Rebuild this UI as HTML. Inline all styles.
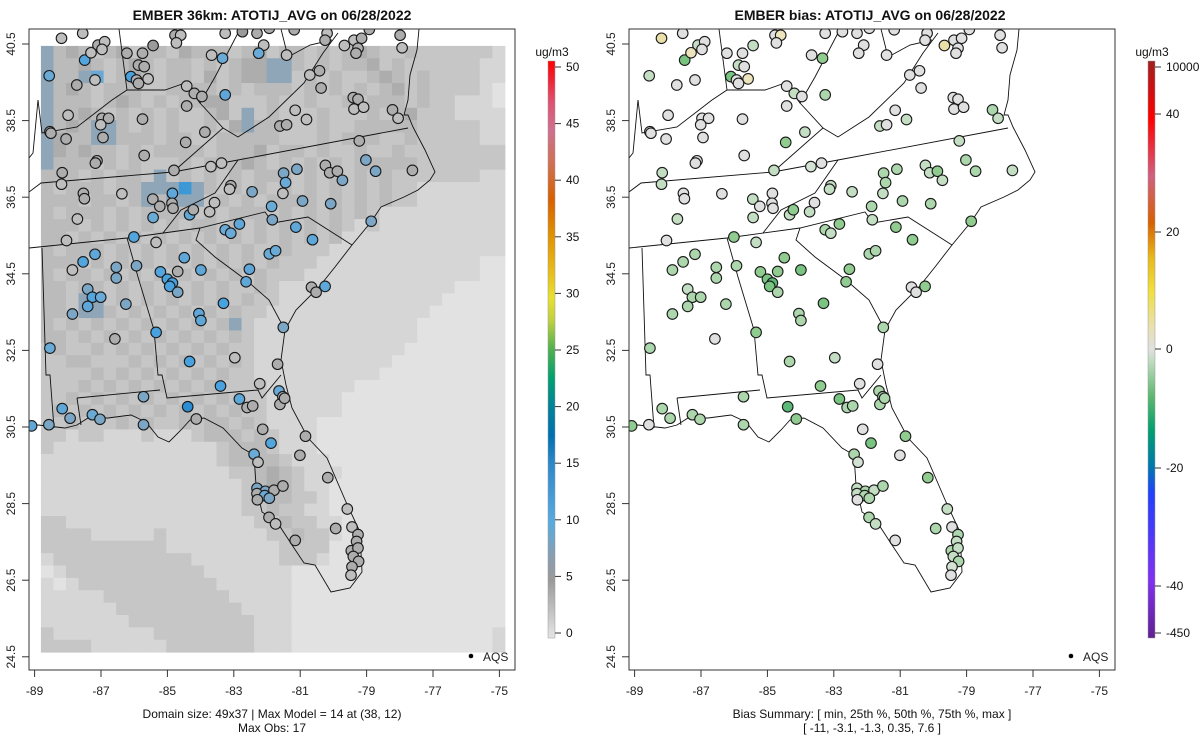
<!DOCTYPE html>
<html><head><meta charset="utf-8"><style>
body{margin:0;background:#fff;}
svg{display:block;font-family:"Liberation Sans",sans-serif;}
</style></head><body>
<svg id="root" width="1200" height="750" xmlns="http://www.w3.org/2000/svg">
<defs>
<clipPath id="clipL"><rect x="29" y="29" width="486" height="641"/></clipPath>
<clipPath id="clipR"><rect x="629" y="29" width="486" height="641"/></clipPath>
<linearGradient id="gradL" x1="0" y1="1" x2="0" y2="0">
<stop offset="0" stop-color="#e5e5e5"/><stop offset="0.1" stop-color="#9a9a9a"/><stop offset="0.14" stop-color="#8a9eaf"/>
<stop offset="0.2" stop-color="#58abe0"/><stop offset="0.3" stop-color="#2e89cc"/><stop offset="0.35" stop-color="#0070b0"/>
<stop offset="0.4" stop-color="#00829a"/><stop offset="0.45" stop-color="#00a070"/><stop offset="0.5" stop-color="#50b050"/>
<stop offset="0.55" stop-color="#c0d040"/><stop offset="0.59" stop-color="#e8e030"/><stop offset="0.64" stop-color="#e8b818"/>
<stop offset="0.7" stop-color="#e09000"/><stop offset="0.76" stop-color="#d86000"/><stop offset="0.82" stop-color="#d07050"/>
<stop offset="0.88" stop-color="#d07090"/><stop offset="0.93" stop-color="#e05070"/><stop offset="0.97" stop-color="#f02030"/><stop offset="1" stop-color="#ff0000"/>
</linearGradient>
<linearGradient id="gradR" x1="0" y1="1" x2="0" y2="0">
<stop offset="0" stop-color="#602090"/><stop offset="0.1" stop-color="#8030f0"/><stop offset="0.25" stop-color="#2040ff"/>
<stop offset="0.3" stop-color="#007aaa"/><stop offset="0.36" stop-color="#00a070"/><stop offset="0.42" stop-color="#60b870"/>
<stop offset="0.48" stop-color="#c0dcc0"/><stop offset="0.5" stop-color="#e0e0e0"/><stop offset="0.54" stop-color="#e8e0b0"/>
<stop offset="0.6" stop-color="#f0e040"/><stop offset="0.66" stop-color="#e8b818"/><stop offset="0.72" stop-color="#d86000"/>
<stop offset="0.8" stop-color="#d06080"/><stop offset="0.9" stop-color="#ff0000"/><stop offset="1" stop-color="#a02020"/>
</linearGradient>
</defs>
</svg>
<script>
// ---- data ----
const gridRows = [
"7454345344354443453443434543343333332","7445434543443434557743434453433333322",
"7447834543443534557734343345434333322","7454344433444434344434343434534333321",
"7444345434344553334334334344434332221","7445434343433453734333433343453332222",
"7454774343433435744333433444443333322","7544774443443344444333434443343333322",
"7545443434444344453443433433433333333","7444343433343444543434343444443333333",
"4443434437343434344434343434333333322","4344434477797434343434343434332222222",
"4443443474777343434444343434332222222","4344434344443434443434343432222222222",
"4443434343434434343434343232222222222","4434343434343434343434342222222222222",
"4344434343434343433433322222222222222","4443434343434343434333222222222222211",
"4344343434343434343332222222222222211","4434434343434343343222222222222221111",
"4437734343434343433222222222222211111","4437743434343434332222222222222111111",
"4343434343434347322222222222221111111","4434343434343434322222222222221111111",
"3433434343434343322222222222211111111","3344333434343434322222222222111111111",
"3333434343434343322222222221111111111","3334343434343433332222222111111111111",
"3343434343434343332222221111111111111","3434343434343434332222221111111111111",
"3343334343343443432222111111111111111","3323322232223444343222111111111111111",
"3222222222222234443222111111111111111","2222222222222234444322211111111111111",
"2222222222222223345432221111111111111","2222222222222222345432211111111111111",
"2222222222222222334433211111111111111","2222222222222222334332211111111111111",
"3322222222222222233433221111111111111","3333222223222222223343321111111111111",
"3333333333222222222333311111111111111","2333333333332222222333211111111111111",
"1233333333333222222211111111111111111","2123333333333322222211111111111111111",
"2222233333333332222211111111111111111","2222223333333333222211111111111111111",
"2222222333333333322211111111111111111","3222222223333333322211111111111111112",
"3333222222333333322211111111111111112"];
const gridLon0=-88.81, gridDLon=0.3777, gridLat0=40.45, gridDLat=0.323;

const stLon=[-88.19,-87.55,-87.09,-86.89,-86.97,-87.49,-87.30,-86.22,-85.75,-85.43,-84.77,-84.60,-84.73,-83.26,-82.74,-82.30,-81.93,-81.18,-80.19,-80.25,-79.67,-79.38,-79.15,-79.26,-79.32,-78.92,-77.99,-77.93,-82.10,-82.25,-81.41,-83.67,-83.34,
-88.56,-87.73,-87.18,-86.10,-85.93,-85.87,-85.70,-85.58,-85.87,-84.42,-84.19,-83.96,-83.26,-84.42,-80.71,-80.42,-80.37,-79.40,-79.26,-79.38,-79.09,-78.22,-78.05,-81.15,-80.81,-81.61,-81.41,
-87.99,-86.97,-86.77,-87.01,-85.75,-88.54,-88.51,-88.05,-86.94,-83.87,-84.45,-85.70,-87.12,-87.17,-88.17,-88.19,-84.80,-83.69,-83.37,-87.53,-87.50,-86.37,-87.71,-88.04,-86.01,-85.34,
-85.44,-84.85,-84.86,-85.23,-84.83,-85.43,-84.33,-84.22,-83.73,-83.58,-83.09,-83.13,-82.45,-81.50,-81.44,-81.52,-81.10,-81.86,-81.84,-80.93,-80.08,-80.24,-80.11,-79.88,-79.73,-79.22,-79.02,-78.73,-77.62,-78.86,
-83.26,-83.09,-82.83,-81.13,-80.63,-81.93,-81.74,-82.53,-82.63,-80.66,-80.52,-80.25,-87.54,-87.18,-87.86,-86.54,-86.54,-85.93,-85.21,-85.00,-84.85,-84.93,-84.69,-84.69,-84.49,-83.99,
-87.40,-87.26,-87.40,-87.01,-87.86,-86.25,-83.31,-84.05,-83.99,-85.34,-86.58,-88.54,-84.33,-82.97,-81.68,-81.51,
-83.40,-82.22,-81.64,-81.52,-81.61,-81.47,-82.83,-82.60,-82.43,-84.39,-84.13,-85.72,-85.72,-88.17,-87.93,-87.26,-87.03,-88.57,-89.09,-82.13,-81.88,-80.84,-81.01,-82.39,-82.27,-80.17,
-82.30,-82.05,-81.79,-81.52,-82.30,-82.07,-81.93,-82.29,-81.94,-81.74,-81.15,-79.58,-79.93,-79.44,-79.26,-79.30,-79.46,-79.26,-79.40,-79.24,-79.44,-79.47];
const stLat=[40.65,40.78,40.47,40.56,40.36,40.08,40.27,40.26,40.26,40.46,40.73,40.73,40.53,40.78,40.82,40.78,40.91,40.87,40.78,40.60,40.46,40.60,40.65,40.39,40.26,40.88,40.73,40.40,40.47,40.26,40.21,40.21,40.13,
39.67,39.43,39.56,39.65,39.56,39.95,39.91,39.59,39.47,39.40,39.21,39.13,39.17,38.88,39.69,39.80,39.35,39.10,39.06,38.80,38.85,38.78,38.56,38.77,38.53,38.36,38.39,
38.64,38.56,38.56,38.39,38.54,38.21,38.17,38.02,38.06,38.20,37.93,37.59,37.45,37.39,37.14,36.84,37.20,37.30,37.39,36.60,36.46,36.59,35.93,35.37,35.46,35.32,
36.45,36.60,36.34,36.26,36.21,35.97,36.04,36.17,36.12,36.36,36.80,36.71,36.64,37.13,36.88,36.60,37.23,36.26,35.91,36.40,36.33,37.33,37.14,37.18,36.94,37.97,37.47,37.18,37.20,35.87,
35.65,35.56,35.80,35.72,35.39,35.02,35.10,34.62,34.29,34.15,34.02,34.17,34.81,35.01,34.60,34.67,34.39,34.71,34.55,34.36,34.26,34.17,34.56,34.02,34.92,34.60,
34.10,33.89,33.65,33.89,33.45,33.71,33.73,33.46,33.28,32.97,32.80,32.56,32.21,32.31,32.14,33.10,
31.57,31.63,31.44,31.29,31.09,31.25,31.23,31.01,31.05,31.03,30.71,31.29,30.56,30.98,30.73,30.82,30.70,30.56,30.53,30.44,30.08,30.26,29.76,29.79,29.58,29.18,
28.90,28.82,28.85,28.96,28.76,28.71,28.64,28.60,28.14,27.97,27.54,28.36,27.85,27.89,27.69,27.51,27.27,27.34,27.12,26.99,26.85,26.63];
const stObs=[3,3,4,3,3,11,3,4,4,5,4,3,3,3,5,4,4,4,3,4,3,3,4,4,4,4,4,3,3,9,3,3,9,
9,4,3,12,4,4,4,3,4,3,4,4,10,4,3,4,4,4,4,3,3,4,3,3,3,4,4,
3,4,4,3,4,4,4,4,4,4,4,4,4,4,4,3,4,3,3,4,4,3,3,3,11,3,
4,10,4,4,4,9,10,4,3,3,4,3,8,8,9,3,8,9,8,8,8,4,4,4,8,4,8,8,4,8,
9,9,10,10,10,9,9,10,10,4,4,10,11,10,3,8,8,8,11,12,12,12,4,8,10,10,
8,11,10,9,8,8,12,10,10,12,4,9,12,3,4,8,
12,3,9,4,4,4,10,4,4,14,4,8,8,10,8,9,8,8,10,4,11,4,4,9,3,4,
8,8,4,4,4,9,8,4,4,3,4,3,4,3,4,4,4,4,4,4,4,3];
const stBias=[4,0,-2,0,0,-5,3,0,0,-2,0,3,0,0,0,0,0,0,0,0,4,0,0,0,0,0,0,0,0,0,0,0,-4,
-2,0,0,-5,0,-2,0,3,0,0,-2,0,-3,0,0,0,0,0,0,0,0,-3,-2,0,-2,-2,0,
0,0,0,0,0,0,0,0,0,-2,-4,0,0,0,-2,-2,-2,-1,0,0,0,0,-2,0,-4,-2,
-2,0,0,0,0,-2,-2,-4,-2,0,-2,-2,-2,-3,-3,-2,-3,-3,-2,-3,-3,-2,-2,-4,-2,-2,-3,-3,-2,-4,
-3,-2,-4,-4,-4,-3,-3,-4,-4,0,0,-4,-3,-3,-3,-3,-3,-3,-4,-5,-6,-5,-4,-3,-4,-5,
-2,-3,-3,-3,-3,-3,-5,-3,-3,-4,0,-3,-3,-2,0,-3,
-4,0,-3,-3,-3,-3,-5,-3,-3,-6,-4,-3,-3,-3,-3,-3,-3,0,-4,0,-5,-4,0,-3,-1,-4,
-2,-3,-2,-3,-2,-3,-3,0,-3,-2,0,-2,-3,0,-3,-2,-3,-2,-2,-3,-1,0];
const xTicks=[-89,-87,-85,-83,-81,-79,-77,-75];
const yTicks=[24.5,26.5,28.5,30.5,32.5,34.5,36.5,38.5,40.5];
const cbLeftTicks=[0,5,10,15,20,25,30,35,40,45,50];
const cbRightLabels=["10000","40","20","0","-20","-40","-450"];

// ---- axes ----
function X(lon,off){return 34.6+(lon+89)*33.2+off;}
function Y(lat){return 44+(40.5-lat)*38.3;}
const NS="http://www.w3.org/2000/svg";
const root=document.getElementById('root');
function mk(tag,attrs,parent){const e=document.createElementNS(NS,tag);for(const k in attrs)e.setAttribute(k,attrs[k]);(parent||root).appendChild(e);return e;}

function gridColor(d){return {1:"#e2e2e2",2:"#d6d6d6",3:"#c6c6c6",4:"#bbbbbb",5:"#adadad",6:"#9e9e9e",7:"#8ea6b8",8:"#6aa7d2",9:"#3d98d6"}[d];}
function interp(s,v){
  if(v<=s[0][0])return "rgb("+s[0][1]+")";
  for(let i=1;i<s.length;i++){if(v<=s[i][0]){const t=(v-s[i-1][0])/(s[i][0]-s[i-1][0]);const c=s[i-1][1].map((a,j)=>Math.round(a+(s[i][1][j]-a)*t));return "rgb("+c+")";}}
  return "rgb("+s[s.length-1][1]+")";
}
function obsColor(v){
  return interp([[0,[224,224,224]],[3,[190,190,190]],[5,[155,155,155]],[7,[140,162,180]],[9,[106,170,214]],[12,[72,162,224]],[14,[44,142,210]]],v);
}
function biasColor(v){
  return interp([[-6,[90,184,120]],[-5,[120,196,128]],[-4,[144,204,144]],[-3,[172,214,172]],[-2,[196,222,196]],[-1,[212,226,212]],[0,[224,224,224]],[3,[236,228,188]],[4,[232,224,168]]],v);
}

// basemap polylines in left-panel pixel space (geographic outline)
const mapLines=[
"419,29 417,50 410,75 408,100 404,115 408,115 413,127 425,150 435,172 430,180 418,190 404,197 381,207 371,222 352,245 335,267 319,287 296,310 285,330 281,360 286,385 292,408 308,438 327,458 346,502 360,532 362,572 350,588 331,592 315,565 304,563 292,545 277,522 262,512 256,485 254,455 242,448 223,428 204,418 190,420 181,430 169,442 158,437 146,422 131,415 108,418 88,418 77,425 65,428 38,425 31,425",
"29,192 41,183 173,172 238,160 408,128",
"29,248 127,238 200,228 265,212 273,223 308,217 352,245",
"200,228 196,240 215,257 246,280 269,300 285,330",
"163,233 181,210 215,193 238,160",
"127,238 138,277 154,330 158,375 162,375 167,398 258,390 262,398 281,375",
"42,248 46,375 50,375 54,428",
"77,398 160,390",
"77,398 81,425",
"119,29 127,90",
"38,100 42,133 77,127 112,100 127,90 165,90 185,83 200,103 215,77 238,33 246,29",
"200,103 223,128 173,172",
"223,128 238,137 269,117 304,83 323,53 338,33",
"281,29 288,57 310,45 332,40",
"38,100 33,153 29,158"];

function panel(off,isBias){
  const g=mk('g',{});
  const clip=mk('g',{'clip-path':off?'url(#clipR)':'url(#clipL)'},g);
  if(!isBias){
    const gg=mk('g',{},clip);
    
    
    gridRows.forEach((row,r)=>{
      for(let c=0;c<row.length;c++){
        const lon=gridLon0+c*gridDLon, lat=gridLat0-r*gridDLat;
        const x0=X(lon,off), x1=X(lon+gridDLon,off), y0=Y(lat), y1=Y(lat-gridDLat);
        const cell=mk('rect',{x:x0.toFixed(2),y:y0.toFixed(2),width:(x1-x0+0.5).toFixed(2),height:(y1-y0+0.5).toFixed(2),fill:gridColor(+row[c])},gg);
        
        
      }
    });
  }
  const ml=mk('g',{fill:'none',stroke:'#111','stroke-width':'0.9',transform:'translate('+off+',0)'},clip);
  
  
  mapLines.forEach(p=>mk('polyline',{points:p},ml));
  const sg=mk('g',{},clip);
  
  
  for(let i=0;i<stLon.length;i++){
    const col=isBias?biasColor(stBias[i]):obsColor(stObs[i]);
    const c=mk('circle',{cx:X(stLon[i],off).toFixed(1),cy:Y(stLat[i]).toFixed(1),r:5.3,fill:col,stroke:'#1a1a1a','stroke-width':'1.1'},sg);
    
    
  }
  const box=mk('rect',{x:29+off,y:29,width:486,height:641,fill:'none',stroke:'#333','stroke-width':'1'},g);
  
  
  const xa=mk('g',{},g);
  
  
  xTicks.forEach(t=>{
    const x=X(t,off);
    mk('line',{x1:x,y1:670,x2:x,y2:677,stroke:'#333'},xa);
    const tx=mk('text',{x:x,y:695,'font-size':'12','text-anchor':'middle',fill:'#222'},xa);
    tx.textContent=t;
    
    
  });
  const ya=mk('g',{},g);
  
  
  yTicks.forEach(t=>{
    const y=Y(t);
    mk('line',{x1:29+off,y1:y,x2:22+off,y2:y,stroke:'#333'},ya);
    const tx=mk('text',{x:0,y:0,'font-size':'12','text-anchor':'middle',fill:'#222',transform:'translate('+(15+off)+','+y+') rotate(-90)'},ya);
    tx.textContent=t.toFixed(1);
    
    
  });
  const lg=mk('g',{},g);
  
  
  mk('circle',{cx:471+off,cy:656,r:2.3,fill:'#000'},lg);
  const lt=mk('text',{x:483+off,y:661,'font-size':'12',fill:'#222'},lg);
  lt.textContent='AQS';
}
panel(0,false);
panel(600,true);

function txt(x,y,s,attrs,name){const t=mk('text',Object.assign({x:x,y:y,'font-size':'12',fill:'#111','text-anchor':'middle'},attrs||{}));t.textContent=s;return t;}
txt(272,20,'EMBER 36km: ATOTIJ_AVG on 06/28/2022',{'font-size':'14','font-weight':'bold'},'left-title');
txt(870,20,'EMBER bias: ATOTIJ_AVG on 06/28/2022',{'font-size':'14','font-weight':'bold'},'right-title');
txt(272,718,'Domain size: 49x37 | Max Model = 14 at (38, 12)',{},'left-caption');
txt(272,732,'Max Obs: 17',{},'left-caption-2');
txt(872,718,'Bias Summary: [ min, 25th %, 50th %, 75th %, max ]',{},'bias-summary');
txt(872,732,'[ -11,   -3.1,   -1.3,   0.35,   7.6 ]',{'xml:space':'preserve'},'bias-summary-values');

const cbL=mk('rect',{x:548,y:61,width:7,height:577,fill:'url(#gradL)',stroke:'#999','stroke-width':'0.5'});


txt(552,56,'ug/m3',{},'colorbar-unit');
cbLeftTicks.forEach(v=>{
  const y=633-v*(633-67)/50;
  mk('line',{x1:555,y1:y,x2:561,y2:y,stroke:'#333'});
  txt(566,y+4,String(v),{'text-anchor':'start'},'colorbar-tick-label');
});
const cbR=mk('rect',{x:1148,y:61,width:7,height:577,fill:'url(#gradR)',stroke:'#999','stroke-width':'0.5'});


txt(1152,56,'ug/m3',{},'colorbar-unit');
cbRightLabels.forEach((s,i)=>{
  const y=[67,114,232,349,468,586,633][i];
  mk('line',{x1:1155,y1:y,x2:1161,y2:y,stroke:'#333'});
  txt(1166,y+4,s,{'text-anchor':'start'},'colorbar-tick-label');
});
</script>
</body></html>
